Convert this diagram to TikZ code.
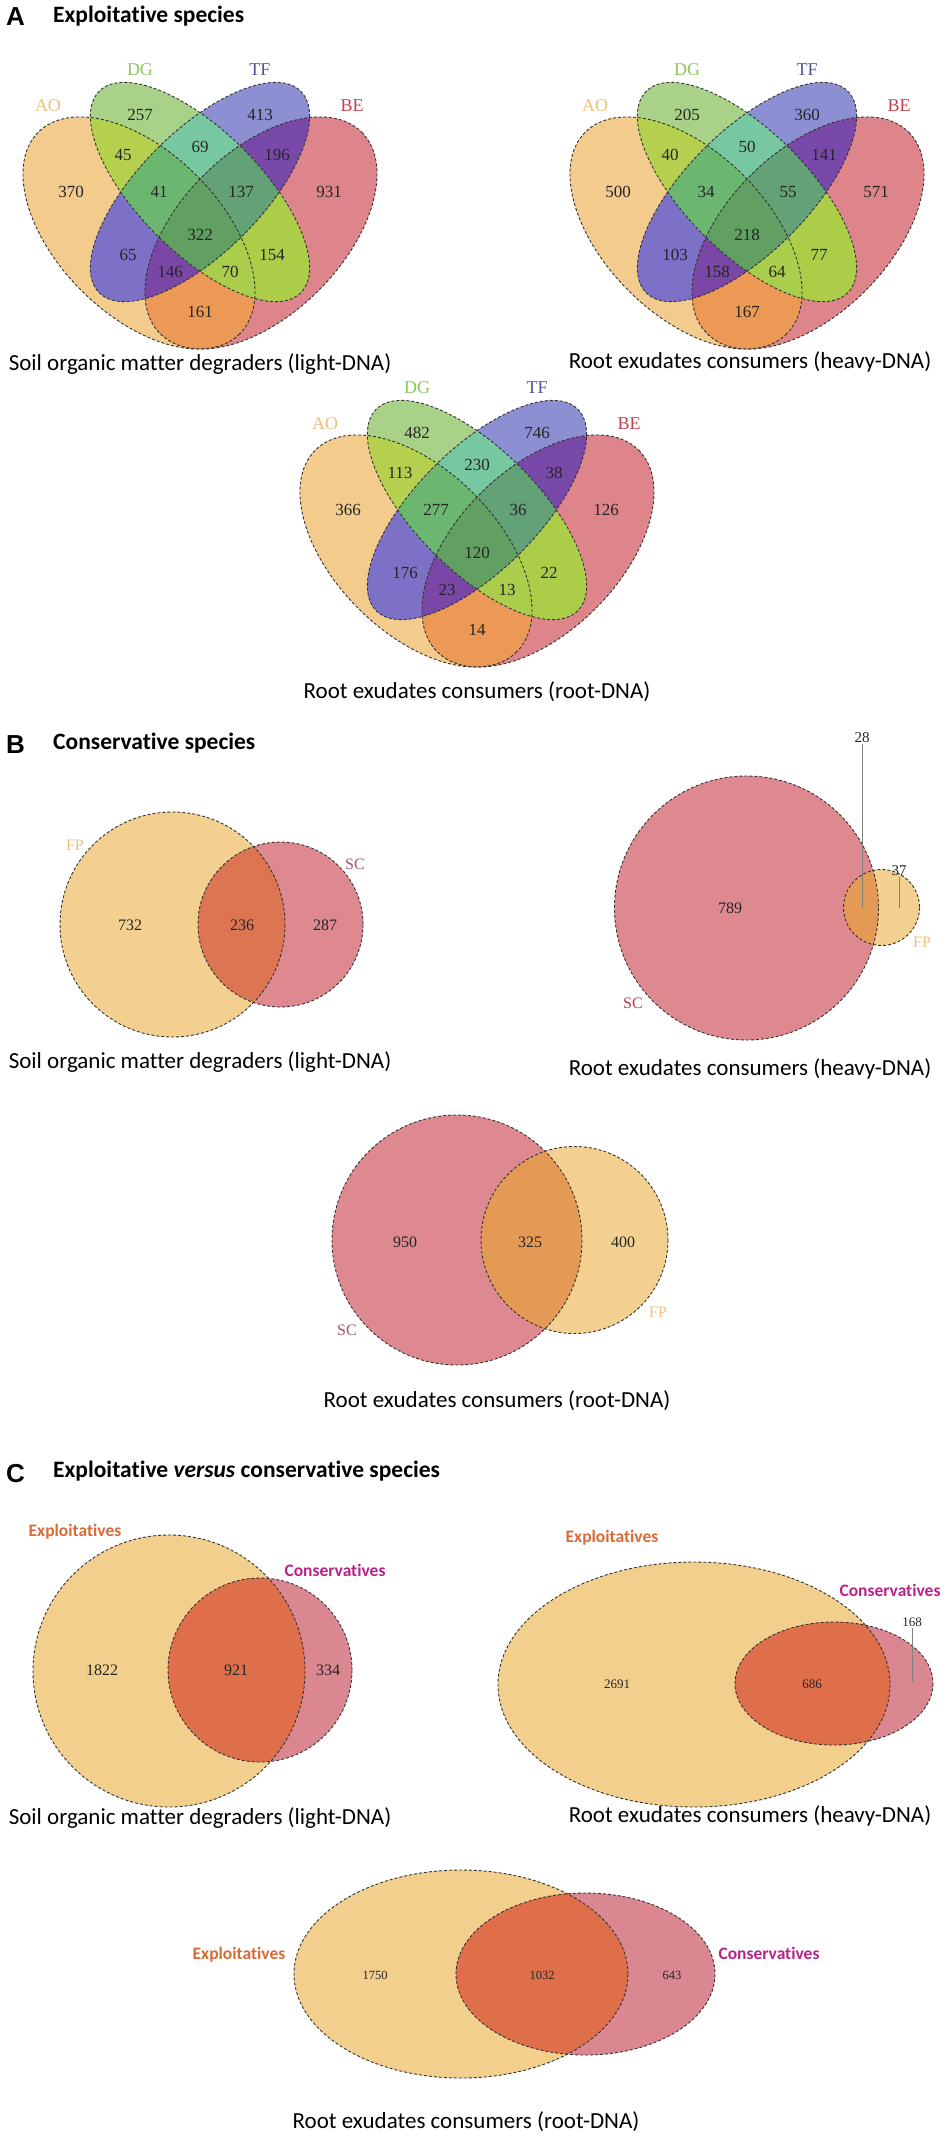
\documentclass[tikz,border=0pt]{standalone}
\usepackage{fontspec}
\setmainfont{Liberation Serif}
\newfontfamily\carlito[Ligatures=NoCommon]{Carlito}
\newfontfamily\liberationsans{Liberation Sans}
\usetikzlibrary{positioning}

% region colours of the four-set diagrams
\definecolor{cA}{HTML}{F2CB8D}
\definecolor{cD}{HTML}{A9D288}
\definecolor{cT}{HTML}{8C8FD2}
\definecolor{cB}{HTML}{DD858B}
\definecolor{cAD}{HTML}{B4D04E}
\definecolor{cAT}{HTML}{7C71C6}
\definecolor{cAB}{HTML}{EB9955}
\definecolor{cDT}{HTML}{77C8A0}
\definecolor{cDB}{HTML}{ABCD48}
\definecolor{cTB}{HTML}{7849A8}
\definecolor{cADT}{HTML}{6CB76F}
\definecolor{cADB}{HTML}{ABCD4C}
\definecolor{cATB}{HTML}{7A47A7}
\definecolor{cDTB}{HTML}{63A177}
\definecolor{cAll}{HTML}{61A062}
% label colours
\definecolor{lAO}{HTML}{EDC07A}
\definecolor{lDG}{HTML}{8CC65E}
\definecolor{lTF}{HTML}{4F52A0}
\definecolor{lBE}{HTML}{C2404F}
% two-set diagrams
\definecolor{cFP}{HTML}{F3D08F}
\definecolor{cSC}{HTML}{DE8890}
\definecolor{cOvB}{HTML}{DD7552}
\definecolor{cOvBb}{HTML}{E49A55}
\definecolor{cExp}{HTML}{F2CF8D}
\definecolor{cCon}{HTML}{DB8791}
\definecolor{cOvC}{HTML}{DE6F4A}
\definecolor{lSC}{HTML}{C0364E}
\definecolor{lSCb}{HTML}{B0506A}
\definecolor{lExp}{HTML}{D86A35}
\definecolor{lCon}{HTML}{B8238A}

\tikzset{
  vline/.style={draw=black!80, line width=0.9pt, dash pattern=on 3pt off 2pt},
  leader/.style={draw=gray, line width=0.6pt},
  num/.style={font=\fontsize{#1}{#1}\selectfont, text=black!85, inner sep=1pt},
  num/.default=17,
  setlab/.style={font=\fontsize{18}{18}\selectfont, inner sep=1pt},
  twolab/.style={font=\fontsize{16}{16}\selectfont, inner sep=1pt},
  panel/.style={font=\liberationsans\bfseries\fontsize{26}{26}\selectfont, anchor=base west, inner sep=0pt},
  title/.style={font=\carlito\bfseries\fontsize{23.5}{23.5}\selectfont, anchor=base west, inner sep=0pt},
  caption/.style={font=\carlito\fontsize{23}{23}\selectfont, anchor=base, inner sep=0pt},
  grouplab/.style={font=\carlito\bfseries\fontsize{17.5}{17.5}\selectfont, inner sep=1pt},
  setAO/.style={insert path={(-61,0) circle [x radius=142.5, y radius=81.4, rotate=-45]}},
  setDG/.style={insert path={(0,-41) circle [x radius=142.5, y radius=61, rotate=-45]}},
  setTF/.style={insert path={(0,-41) circle [x radius=142.5, y radius=61, rotate=45]}},
  setBE/.style={insert path={(61,0) circle [x radius=142.5, y radius=81.4, rotate=45]}},
}

% four ellipses AO, DG, TF, BE around the current origin
\newcommand\quadvenn{%
  \fill[cA, setAO]; \fill[cD, setDG]; \fill[cT, setTF]; \fill[cB, setBE];
  \begin{scope}\clip[setAO]; \fill[cAD, setDG]; \end{scope}
  \begin{scope}\clip[setAO]; \fill[cAT, setTF]; \end{scope}
  \begin{scope}\clip[setAO]; \fill[cAB, setBE]; \end{scope}
  \begin{scope}\clip[setDG]; \fill[cDT, setTF]; \end{scope}
  \begin{scope}\clip[setDG]; \fill[cDB, setBE]; \end{scope}
  \begin{scope}\clip[setTF]; \fill[cTB, setBE]; \end{scope}
  \begin{scope}\clip[setAO]; \clip[setDG]; \fill[cADT, setTF]; \end{scope}
  \begin{scope}\clip[setAO]; \clip[setDG]; \fill[cADB, setBE]; \end{scope}
  \begin{scope}\clip[setAO]; \clip[setTF]; \fill[cATB, setBE]; \end{scope}
  \begin{scope}\clip[setDG]; \clip[setTF]; \fill[cDTB, setBE]; \end{scope}
  \begin{scope}\clip[setAO]; \clip[setDG]; \clip[setTF]; \fill[cAll, setBE]; \end{scope}
  \draw[vline, setAO]; \draw[vline, setDG]; \draw[vline, setTF]; \draw[vline, setBE];
  \node[setlab, text=lAO] (AO) at (-152,-127) {AO};
  \node[setlab, text=lDG] (DG) at (-60,-163) {DG};
  \node[setlab, text=lTF] (TF) at (60,-163) {TF};
  \node[setlab, text=lBE] (BE) at (152,-127) {BE};
}

\begin{document}
\begin{tikzpicture}[x=1pt, y=-1pt]
\useasboundingbox (0,0) rectangle (950,2142);
\fill[white] (0,0) rectangle (950,2142);

% A: exploitative species
\node[panel] (lettA) at (6,25) {A};
\node[title] (titA) at (53,22) {Exploitative species};

\begin{scope}[shift={(200,233)}]
  \quadvenn
  \foreach \u/\v/\val [count=\i] in {-129/-41/370, -60/-118/257, 60/-118/413, 129/-41/931,
      -77/-78/45, 0/-86/69, 77/-78/196, -41/-41/41, 41/-41/137, 0/2/322,
      -72/22/65, 72/22/154, -30/39/146, 30/39/70, 0/79/161}
    \node[num] (light\i) at (\u,\v) {\val};
\end{scope}
\node[caption] (capAlight) at (200,370) {Soil organic matter degraders (light-DNA)};

\begin{scope}[shift={(747,233)}]
  \quadvenn
  \foreach \u/\v/\val [count=\i] in {-129/-41/500, -60/-118/205, 60/-118/360, 129/-41/571,
      -77/-78/40, 0/-86/50, 77/-78/141, -41/-41/34, 41/-41/55, 0/2/218,
      -72/22/103, 72/22/77, -30/39/158, 30/39/64, 0/79/167}
    \node[num] (heavy\i) at (\u,\v) {\val};
\end{scope}
\node[caption] (capAheavy) at (750,368) {Root exudates consumers (heavy-DNA)};

\begin{scope}[shift={(477,551)}]
  \quadvenn
  \foreach \u/\v/\val [count=\i] in {-129/-41/366, -60/-118/482, 60/-118/746, 129/-41/126,
      -77/-78/113, 0/-86/230, 77/-78/38, -41/-41/277, 41/-41/36, 0/2/120,
      -72/22/176, 72/22/22, -30/39/23, 30/39/13, 0/79/14}
    \node[num] (root\i) at (\u,\v) {\val};
\end{scope}
\node[caption] (capAroot) at (477,698) {Root exudates consumers (root-DNA)};

% B: conservative species
\node[panel] (lettB) at (6,753) {B};
\node[title] (titB) at (53,749) {Conservative species};

\fill[cFP] (172.5,924.5) circle [radius=112.5];
\fill[cSC] (280.5,924.5) circle [radius=82.5];
\begin{scope}
  \clip (172.5,924.5) circle [radius=112.5];
  \fill[cOvB] (280.5,924.5) circle [radius=82.5];
\end{scope}
\draw[vline] (172.5,924.5) circle [radius=112.5];
\draw[vline] (280.5,924.5) circle [radius=82.5];
\node[num=16] (b732) at (130,925) {732};
\node[num=16] (b236) at (242,925) {236};
\node[num=16] (b287) at (325,925) {287};
\node[twolab, text=lAO] (bFP1) at (75,845) {FP};
\node[twolab, text=lSCb] (bSC1) at (355,864) {SC};
\node[caption] (capBlight) at (200,1068) {Soil organic matter degraders (light-DNA)};

\fill[cSC] (746.5,908) circle [radius=132];
\fill[cFP] (881.5,907.5) circle [radius=38];
\begin{scope}
  \clip (746.5,908) circle [radius=132];
  \fill[cOvBb] (881.5,907.5) circle [radius=38];
\end{scope}
\draw[vline] (746.5,908) circle [radius=132];
\draw[vline] (881.5,907.5) circle [radius=38];
\node[num=16] (b789) at (730,908) {789};
\node[num=15] (b28) at (862,738) {28};
\node[num=15] (b37) at (899,871) {37};
\coordinate (p28) at (862,908);
\coordinate (p37) at (899,908);
\draw[leader] (b28) -- (p28);
\draw[leader] (b37) -- (p37);
\node[twolab, text=lSC] (bSC2) at (633,1003) {SC};
\node[twolab, text=lAO] (bFP2) at (922,942) {FP};
\node[caption] (capBheavy) at (750,1075) {Root exudates consumers (heavy-DNA)};

\fill[cSC] (457,1240) circle [radius=125];
\fill[cFP] (574.5,1240) circle [radius=93.5];
\begin{scope}
  \clip (457,1240) circle [radius=125];
  \fill[cOvBb] (574.5,1240) circle [radius=93.5];
\end{scope}
\draw[vline] (457,1240) circle [radius=125];
\draw[vline] (574.5,1240) circle [radius=93.5];
\node[num=16] (b950) at (405,1242) {950};
\node[num=16] (b325) at (530,1242) {325};
\node[num=16] (b400) at (623,1242) {400};
\node[twolab, text=lSCb] (bSC3) at (347,1330) {SC};
\node[twolab, text=lAO] (bFP3) at (658,1312) {FP};
\node[caption] (capBroot) at (497,1407) {Root exudates consumers (root-DNA)};

% C: exploitative versus conservative species
\node[panel] (lettC) at (6,1482) {C};
\node[title] (titC) at (53,1477) {Exploitative \textit{versus} conservative species};

\fill[cExp] (169,1671) circle [radius=136];
\fill[cCon] (260,1670) circle [radius=92];
\begin{scope}
  \clip (169,1671) circle [radius=136];
  \fill[cOvC] (260,1670) circle [radius=92];
\end{scope}
\draw[vline] (169,1671) circle [radius=136];
\draw[vline] (260,1670) circle [radius=92];
\node[num=16] (c1822) at (102,1670) {1822};
\node[num=16] (c921) at (236,1670) {921};
\node[num=16] (c334) at (328,1670) {334};
\node[grouplab, text=lExp] (cExp1) at (75,1532) {Exploitatives};
\node[grouplab, text=lCon] (cCon1) at (335,1570) {Conservatives};
\node[caption] (capClight) at (200,1824) {Soil organic matter degraders (light-DNA)};

\fill[cExp] (694,1684.5) ellipse [x radius=196, y radius=122.5];
\fill[cCon] (834,1683.5) ellipse [x radius=99, y radius=61.5];
\begin{scope}
  \clip (694,1684.5) ellipse [x radius=196, y radius=122.5];
  \fill[cOvC] (834,1683.5) ellipse [x radius=99, y radius=61.5];
\end{scope}
\draw[vline] (694,1684.5) ellipse [x radius=196, y radius=122.5];
\draw[vline] (834,1683.5) ellipse [x radius=99, y radius=61.5];
\node[num=13] (c2691) at (617,1684) {2691};
\node[num=13] (c686) at (812,1684) {686};
\node[num=13] (c168) at (912,1622) {168};
\coordinate (p168) at (912,1682);
\draw[leader] (c168) -- (p168);
\node[grouplab, text=lExp] (cExp2) at (612,1538) {Exploitatives};
\node[grouplab, text=lCon] (cCon2) at (890,1590) {Conservatives};
\node[caption] (capCheavy) at (750,1822) {Root exudates consumers (heavy-DNA)};

\fill[cExp] (461,1974) ellipse [x radius=167, y radius=104];
\fill[cCon] (585.5,1974) ellipse [x radius=129.5, y radius=81];
\begin{scope}
  \clip (461,1974) ellipse [x radius=167, y radius=104];
  \fill[cOvC] (585.5,1974) ellipse [x radius=129.5, y radius=81];
\end{scope}
\draw[vline] (461,1974) ellipse [x radius=167, y radius=104];
\draw[vline] (585.5,1974) ellipse [x radius=129.5, y radius=81];
\node[num=12.5] (c1750) at (375,1975) {1750};
\node[num=12.5] (c1032) at (542,1975) {1032};
\node[num=12.5] (c643) at (672,1975) {643};
\node[grouplab, text=lExp] (cExp3) at (239,1955) {Exploitatives};
\node[grouplab, text=lCon] (cCon3) at (769,1953) {Conservatives};
\node[caption] (capCroot) at (466,2128) {Root exudates consumers (root-DNA)};
\end{tikzpicture}
\end{document}
